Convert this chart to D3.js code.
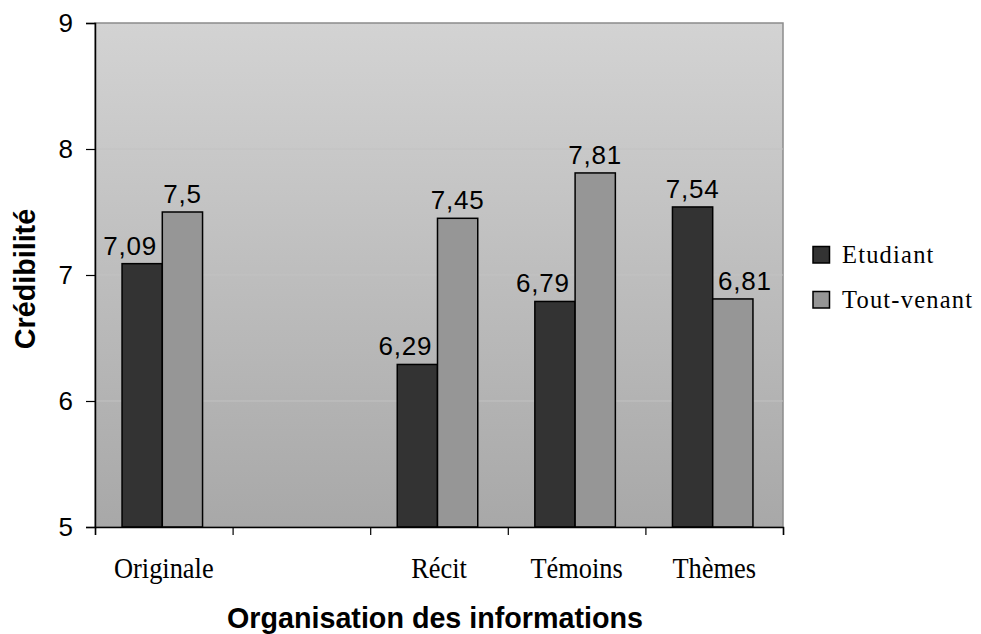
<!DOCTYPE html>
<html>
<head>
<meta charset="utf-8">
<script src="https://cdn.jsdelivr.net/npm/d3@7"></script>
<style>
  html, body { margin: 0; padding: 0; background: #fff; }
  svg { display: block; }
</style>
</head>
<body>
<svg id="chart" width="981" height="634"></svg>
<script>
// ---- data ----
const categories = ["Originale", "", "Récit", "Témoins", "Thèmes"];
const seriesNames = ["Etudiant", "Tout-venant"];
const etudiant = [7.09, null, 6.29, 6.79, 7.54];
const toutVenant = [7.5, null, 7.45, 7.81, 6.81];
const yTicks = [5, 6, 7, 8, 9];
const yTitle = "Crédibilité";
const xTitle = "Organisation des informations";

// ---- layout ----
const W = 981, H = 634;
const plot = { left: 95, right: 783, top: 23, bottom: 527 };
const colors = { "Etudiant": "#333333", "Tout-venant": "#969696" };
const sans = "'Liberation Sans', Arial, sans-serif";
const serif = "'Liberation Serif', 'Times New Roman', serif";

const svg = d3.select("#chart");
const defs = svg.append("defs");
const grad = defs.append("linearGradient").attr("id", "bg")
  .attr("x1", 0).attr("y1", 0).attr("x2", 0).attr("y2", 1);
grad.append("stop").attr("offset", "0%").attr("stop-color", "#d3d3d3");
grad.append("stop").attr("offset", "100%").attr("stop-color", "#a8a8a8");

const x = d3.scaleBand().domain(categories).range([plot.left, plot.right]).padding(0);
const xIdx = d3.scaleLinear().domain([0, categories.length]).range([plot.left, plot.right]);
const y = d3.scaleLinear().domain([5, 9]).range([plot.bottom, plot.top]);
const groupW = 80.5;
const groupOff = (x.bandwidth() - groupW) / 2 - 1.5;
const x1 = d3.scaleBand().domain(seriesNames).range([groupOff, groupOff + groupW]).padding(0);

// plot background
svg.append("rect")
  .attr("x", plot.left).attr("y", plot.top)
  .attr("width", plot.right - plot.left).attr("height", plot.bottom - plot.top)
  .attr("fill", "url(#bg)").attr("stroke", "#8c8c8c").attr("stroke-width", 1.5);

// gridlines
svg.append("g").selectAll("line").data(yTicks.filter(t => t > 5 && t < 9)).join("line")
  .attr("x1", plot.left).attr("x2", plot.right)
  .attr("y1", d => y(d)).attr("y2", d => y(d))
  .attr("stroke", "#c2c2c2").attr("stroke-width", 1);

// bars
const rows = categories.map((c, i) => ({ cat: c, vals: [etudiant[i], toutVenant[i]] }));
const g = svg.append("g");
rows.forEach(r => {
  r.vals.forEach((v, j) => {
    if (v == null) return;
    const s = seriesNames[j];
    const bx = x(r.cat) + x1(s);
    g.append("rect")
      .attr("x", bx).attr("y", y(v))
      .attr("width", x1.bandwidth()).attr("height", y(5) - y(v))
      .attr("fill", colors[s]).attr("stroke", "#000").attr("stroke-width", 1.5);
    // label shifted away from a taller neighbour
    const other = r.vals[1 - j];
    let shift = 0;
    if (other != null && other > v) shift = (j === 0 ? -12 : 12);
    g.append("text")
      .attr("x", bx + x1.bandwidth() / 2 + shift)
      .attr("y", y(v) - 9)
      .attr("text-anchor", "middle")
      .attr("font-family", sans).attr("font-size", 26)
      .attr("letter-spacing", 0.8)
      .attr("fill", "#000")
      .text(String(v).replace(".", ","));
  });
});

// y axis
const yAxis = d3.axisLeft(y).tickValues(yTicks).tickSize(9).tickPadding(13)
  .tickFormat(d3.format("d"));
const ya = svg.append("g").attr("transform", `translate(${plot.left},0)`).call(yAxis);
ya.select(".domain").attr("stroke", "#000").attr("stroke-width", 1.5);
ya.selectAll(".tick line").attr("stroke", "#000").attr("stroke-width", 1.2);
ya.selectAll(".tick text").attr("font-family", sans).attr("font-size", 26).attr("fill", "#000");

// x axis (ticks at band boundaries)
const xAxis = d3.axisBottom(xIdx).tickValues(d3.range(categories.length + 1))
  .tickSize(8).tickFormat("");
const xa = svg.append("g").attr("transform", `translate(0,${plot.bottom})`).call(xAxis);
xa.select(".domain").attr("stroke", "#000").attr("stroke-width", 1.5);
xa.selectAll(".tick line").attr("stroke", "#000").attr("stroke-width", 1.2);

// category labels
svg.append("g").selectAll("text").data(categories.filter(c => c !== "")).join("text")
  .attr("transform", d => `translate(${x(d) + x.bandwidth() / 2},578) scale(0.88,1)`)
  .attr("text-anchor", "middle")
  .attr("font-family", serif).attr("font-size", 30).attr("fill", "#000")
  .text(d => d);

// axis titles
svg.append("text")
  .attr("transform", `translate(35,${(plot.top + plot.bottom) / 2 + 4}) rotate(-90)`)
  .attr("text-anchor", "middle")
  .attr("font-family", sans).attr("font-weight", "bold").attr("font-size", 28.7)
  .attr("fill", "#000").text(yTitle);
svg.append("text")
  .attr("x", 435).attr("y", 628)
  .attr("text-anchor", "middle")
  .attr("font-family", sans).attr("font-weight", "bold").attr("font-size", 28.7)
  .attr("fill", "#000").text(xTitle);

// legend
const lg = svg.append("g").attr("transform", "translate(813,246.5)");
seriesNames.forEach((s, i) => {
  const row = lg.append("g").attr("transform", `translate(0,${i * 45})`);
  row.append("rect").attr("x", 0).attr("y", 0).attr("width", 16.5).attr("height", 16.5)
    .attr("fill", colors[s]).attr("stroke", "#000").attr("stroke-width", 1.5);
  row.append("text").attr("x", 29).attr("y", 16.8)
    .attr("font-family", serif).attr("font-size", 24.5).attr("letter-spacing", 1.2)
    .attr("fill", "#000").text(s);
});
</script>
</body>
</html>
